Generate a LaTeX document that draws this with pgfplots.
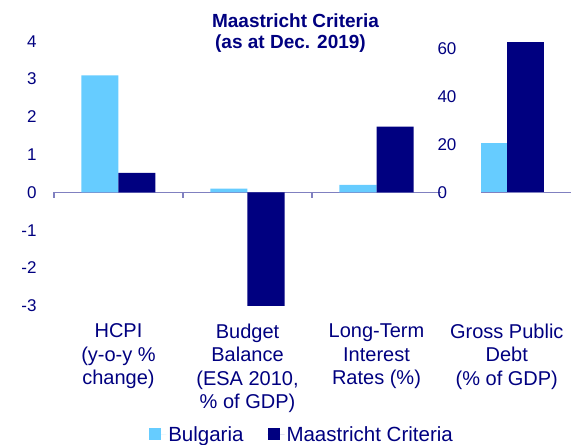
\documentclass[border=0pt]{standalone}
\usepackage{pgfplots}
\pgfplotsset{compat=1.18}
\usepackage{fontspec}
\setmainfont{Liberation Sans}
\definecolor{navy}{RGB}{0,0,128}
\definecolor{lblue}{RGB}{102,204,255}
\definecolor{axisc}{RGB}{128,128,192}
\pgfplotsset{
  common/.style={
    scale only axis, height=287.3pt,
    axis x line=middle, axis y line=left,
    y axis line style={draw=none},
    x axis line style={draw=axisc, line width=1.4pt, -},
    major tick length=0pt, minor tick length=5.5pt,
    tick align=outside,
    minor tick style={draw=axisc, line width=1.1pt},
    /pgf/number format/assume math mode=true,
    yticklabel style={font=\fontsize{17}{20}\selectfont, text=navy},
    xticklabel style={font=\fontsize{20}{23.5}\selectfont, text=navy, align=center, anchor=north, yshift=-128pt},
    ybar=0pt, bar width=37pt,
    clip=true,
  }
}
\begin{document}
\begin{tikzpicture}
\useasboundingbox (0pt,0pt) rectangle (571pt,445pt);
\begin{axis}[common,
  at={(54pt,127.8pt)}, anchor=south west,
  width=387pt,
  xmin=-0.5, xmax=2.5, ymin=-3.3, ymax=4.3,
  ytick={-3,-2,-1,0,1,2,3,4},
  yticklabel style={anchor=east, xshift=-14pt},
  xtick={0,1,2},
  xticklabels={{HCPI\\(y-o-y \%\\change)},{Budget\\Balance\\(ESA 2010,\\\% of GDP)},{Long-Term\\Interest\\Rates (\%)}},
  minor xtick={-0.5,0.5,1.5},
  legend columns=2,
  legend style={at={(0.641,-0.41)}, anchor=center, draw=none, fill=none,
    font=\fontsize{20.5}{24}\selectfont, text=navy,
    /tikz/every even column/.append style={column sep=22pt}},
  legend image code/.code={\fill[#1] (0pt,-5pt) rectangle (12pt,7pt); \path (0pt,0pt) -- (17pt,0pt);},
]
\addplot[fill=lblue, draw=none] coordinates {(0,3.1) (1,0.1) (2,0.2)};
\addplot[fill=navy, draw=none] coordinates {(0,0.52) (1,-3.0) (2,1.74)};
\legend{Bulgaria, Maastricht Criteria}
\end{axis}
\begin{axis}[common,
  at={(481pt,127.8pt)}, anchor=south west,
  width=90.3pt,
  xmin=-0.2, xmax=0.5, ymin=-51.975, ymax=67.725,
  ytick={0,20,40,60},
  yticklabel style={anchor=west, xshift=-47pt},
  xtick={0},
  xticklabels={{Gross Public\\Debt\\(\% of GDP)}},
  minor xtick={0.5},
]
\addplot[fill=lblue, draw=none] coordinates {(0,20.4)};
\addplot[fill=navy, draw=none] coordinates {(0,62.8)};
\end{axis}
\node[font=\bfseries\fontsize{19}{21}\selectfont, text=navy, anchor=base] at (295.5pt,417pt) {Maastricht Criteria};
\node[font=\bfseries\fontsize{19}{21}\selectfont, text=navy, anchor=base] at (290.5pt,396pt) {(as at Dec. 2019)};
\end{tikzpicture}
\end{document}
